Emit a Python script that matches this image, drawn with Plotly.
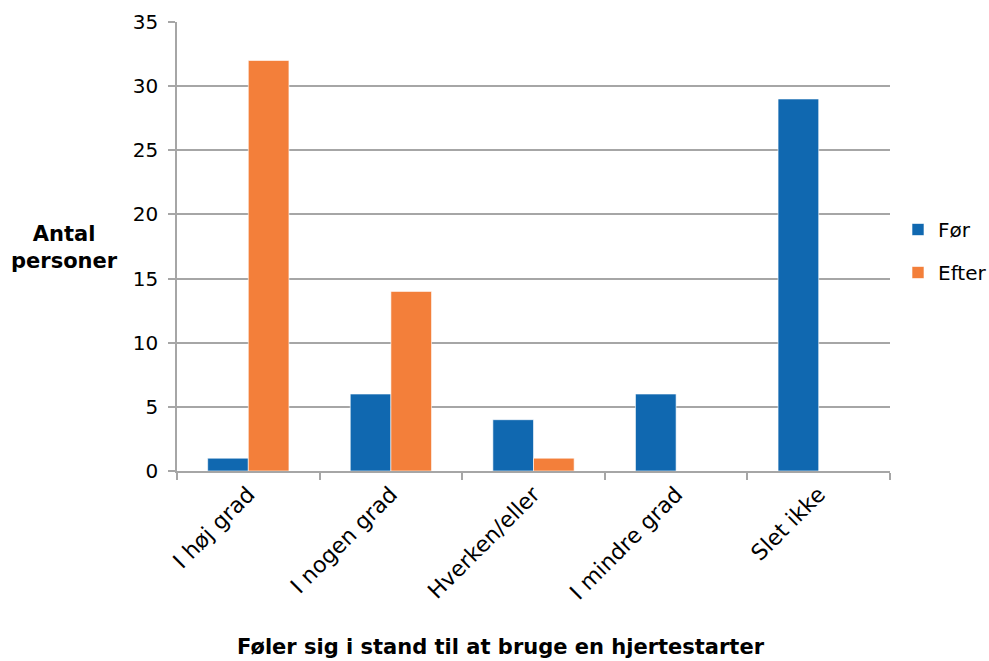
import plotly.graph_objects as go

categories = ["I høj grad", "I nogen grad", "Hverken/eller", "I mindre grad", "Slet ikke"]
foer = [1, 6, 4, 6, 29]
efter = [32, 14, 1, 0, 0]
y_ticks = [0, 5, 10, 15, 20, 25, 30, 35]

FONT = "DejaVu Sans, Verdana, sans-serif"
FS = 20
L, R, T, B = 177, 99, 22, 190
W, H = 989, 661
pw, ph = W - L - R, H - T - B

fig = go.Figure()
fig.add_trace(go.Bar(name="Før", x=categories, y=foer, legendgroup="a",
                     marker=dict(color="#1068B0", line=dict(color="#ffffff", width=0.6))))
fig.add_trace(go.Bar(name="Efter", x=categories, y=efter, legendgroup="b",
                     marker=dict(color="#F37F3A", line=dict(color="#ffffff", width=0.6))))

fig.update_layout(
    width=W, height=H,
    margin=dict(l=L, r=R, t=T, b=B, pad=0, autoexpand=False),
    paper_bgcolor="white", plot_bgcolor="white",
    barmode="group", bargap=0.43, bargroupgap=0,
    font=dict(family=FONT, size=FS, color="#000000"),
    showlegend=True,
    legend=dict(x=(898 - L) / pw, y=(471 - 251) / ph, xanchor="left", yanchor="middle",
                font=dict(size=FS), tracegroupgap=14, itemwidth=30, bgcolor="rgba(0,0,0,0)"),
    xaxis=dict(tickangle=-45, showline=True, linecolor="#a6a6a6", linewidth=1.5,
               ticks="outside", tickson="boundaries", ticklen=7, tickcolor="#a6a6a6", tickwidth=1.5,
               showgrid=False, tickfont=dict(size=22), automargin=False),
    yaxis=dict(range=[0, 35], tickvals=y_ticks, showline=True, linecolor="#a6a6a6", linewidth=1.5,
               ticks="outside", ticklen=7, tickcolor="#a6a6a6", tickwidth=1.5,
               showgrid=True, gridcolor="#a6a6a6", gridwidth=1.5, zeroline=False,
               ticklabelstandoff=6, tickfont=dict(size=FS), automargin=False),
    annotations=[
        dict(text="<b>Antal<br>personer</b>", xref="paper", yref="paper",
             x=(64 - L) / pw, y=(471 - 248) / ph, xanchor="center", yanchor="middle",
             showarrow=False, font=dict(size=21, family=FONT)),
        dict(text="<b>Føler sig i stand til at bruge en hjertestarter</b>", xref="paper", yref="paper",
             x=(501 - L) / pw, y=(471 - 647) / ph, xanchor="center", yanchor="middle",
             showarrow=False, font=dict(size=21, family=FONT)),
    ],
)

fig.write_html("out.html")
